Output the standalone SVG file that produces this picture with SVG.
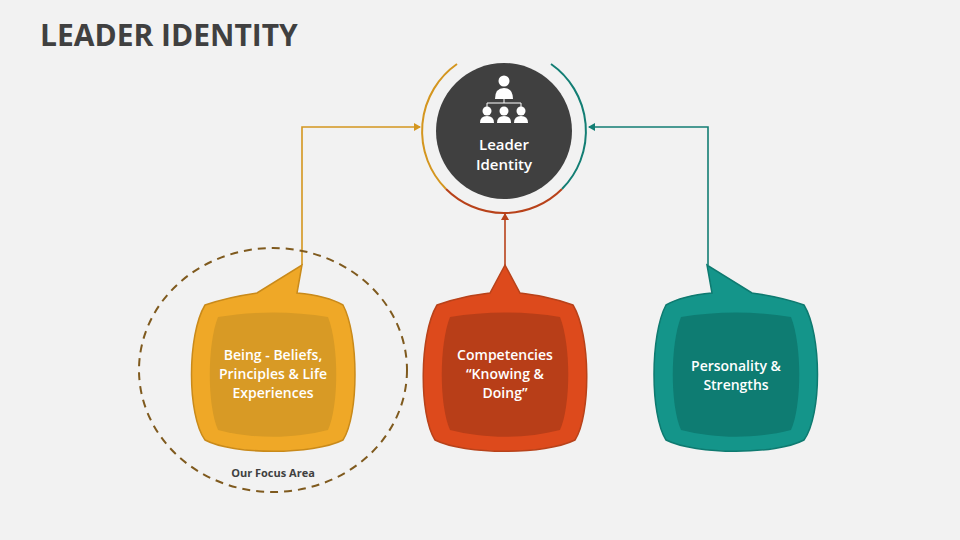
<svg xmlns="http://www.w3.org/2000/svg" width="960" height="540" viewBox="0 0 960 540">
<style>
text{font-family:"Open Sans","Liberation Sans",sans-serif;font-weight:bold;text-anchor:middle}
.lbl{fill:#fff;font-size:14px;font-weight:600}
.conn{fill:none;stroke-width:1.6}
</style>
<defs>
<path id="body" d="M -68,-70 C -45,-78 -30,-80 -16,-82 L 29,-110 L 24,-82 C 45,-80 58,-77 70,-70 C 86,-40 86,40 70,65 C 40,80 -40,80 -68,65 C -86,40 -86,-40 -68,-70 Z"/>
<path id="inner" d="M -55,-58 C -20,-64 20,-64 55,-58 C 66,-30 66,30 55,55 C 20,64 -20,64 -55,55 C -66,30 -66,-30 -55,-58 Z"/>
<path id="bodyC" d="M -68,-70 C -45,-78 -30,-80 -15,-82 L 0,-110 L 15,-82 C 30,-80 45,-78 68,-70 C 86,-40 86,40 70,65 C 40,80 -40,80 -70,65 C -86,40 -86,-40 -68,-70 Z"/>
<marker id="ay" markerWidth="8" markerHeight="8" refX="6" refY="4" orient="auto" markerUnits="userSpaceOnUse"><path d="M0,0 L7,4 L0,8 Z" fill="#D4961F"/></marker>
<marker id="ao" markerWidth="8" markerHeight="8" refX="6" refY="4" orient="auto" markerUnits="userSpaceOnUse"><path d="M0,0 L7,4 L0,8 Z" fill="#B8421A"/></marker>
<marker id="at" markerWidth="8" markerHeight="8" refX="6" refY="4" orient="auto" markerUnits="userSpaceOnUse"><path d="M0,0 L7,4 L0,8 Z" fill="#137E74"/></marker>
</defs>
<rect width="960" height="540" fill="#F2F2F2"/>
<text x="40" y="46" style="text-anchor:start;font-size:30px;fill:#404040">LEADER IDENTITY</text>

<g id="connectors">
<path class="conn" d="M302,265 V127 H420" stroke="#D4961F" marker-end="url(#ay)"/>
<path class="conn" d="M505,265 V214" stroke="#B8421A" marker-end="url(#ao)"/>
<path class="conn" d="M708,265 V127 H589" stroke="#137E74" marker-end="url(#at)"/>
</g>

<g id="center">
<path d="M457,64 A82,82 0 0 0 446,189" fill="none" stroke="#D4961F" stroke-width="2"/>
<path d="M446,189 A82,82 0 0 0 562,189" fill="none" stroke="#B8421A" stroke-width="2"/>
<path d="M562,189 A82,82 0 0 0 551,64" fill="none" stroke="#137E74" stroke-width="2"/>
<circle cx="504" cy="131" r="68" fill="#404040"/>
<g fill="#fff">
<circle cx="504" cy="81" r="5.5"/>
<path d="M495,99 Q495,88 504,88 Q513,88 513,99 Z"/>
<path d="M504,99 V103 M487,108 V103 H521 V108" stroke="#fff" stroke-width="1" fill="none"/>
<circle cx="487" cy="111" r="4.5"/><path d="M480,123 Q480,116 487,116 Q494,116 494,123 Z"/>
<circle cx="504" cy="111" r="4.5"/><path d="M497,123 Q497,116 504,116 Q511,116 511,123 Z"/>
<circle cx="521" cy="111" r="4.5"/><path d="M514,123 Q514,116 521,116 Q528,116 528,123 Z"/>
</g>
<text class="lbl" x="504" y="150" style="font-size:15px">Leader</text>
<text class="lbl" x="504" y="170" style="font-size:15px">Identity</text>
</g>

<g id="focus">
<ellipse cx="273" cy="370" rx="134" ry="122" fill="none" stroke="#7F5A1E" stroke-width="2" stroke-dasharray="8,6"/>
<text x="273" y="477" style="font-size:11px;fill:#404040">Our Focus Area</text>
</g>

<g id="being" transform="translate(273,375)">
<use href="#body" fill="#EFA827" stroke="#C98A1A" stroke-width="1.5"/>
<use href="#inner" fill="#D89A25"/>
<text class="lbl" y="-15">Being - Beliefs,</text>
<text class="lbl" y="4">Principles &amp; Life</text>
<text class="lbl" y="23">Experiences</text>
</g>

<g id="competencies" transform="translate(505,375)">
<use href="#bodyC" fill="#DD4A1C" stroke="#B8421A" stroke-width="1.5"/>
<use href="#inner" fill="#B83E18"/>
<text class="lbl" y="-15">Competencies</text>
<text class="lbl" y="4">“Knowing &amp;</text>
<text class="lbl" y="23">Doing”</text>
</g>

<g id="personality" transform="translate(736,375) scale(-1,1)">
<use href="#body" fill="#14958A" stroke="#0E7A70" stroke-width="1.5"/>
<use href="#inner" fill="#0E7C72"/>
</g>
<g id="personality-text">
<text class="lbl" x="736" y="371">Personality &amp;</text>
<text class="lbl" x="736" y="390">Strengths</text>
</g>
</svg>
